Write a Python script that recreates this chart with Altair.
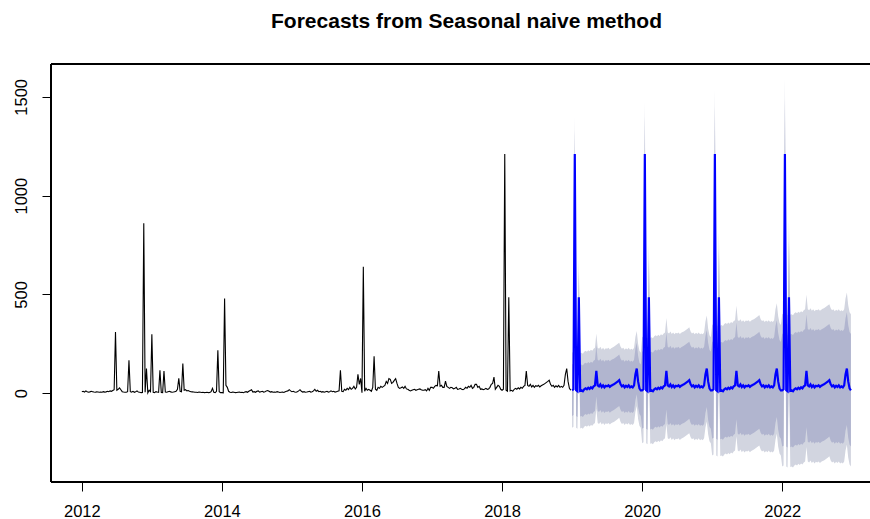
import altair as alt
import pandas as pd

y2012 = [8, 10, 6, 12, 8, 5, 7, 10, 8, 6,
         5, 7, 6, 5, 6, 5, 8, 6, 7, 10,
         8, 12, 10, 14, 18, 310, 15, 20, 27, 18,
         8, 6, 5, 5, 8, 167, 8, 6, 10, 5,
         8, 12, 6, 5, 3, 4, 860, 5, 125, 2,
         15, 8]
y2013 = [298, 5, 3, 8, 6, 5, 116, 4, 3, 113,
         6, 5, 8, 10, 7, 5, 6, 8, 10, 20,
         76, 10, 8, 151, 15, 18, 12, 14, 10, 8,
         7, 6, 5, 5, 4, 6, 5, 4, 5, 3,
         4, 5, 3, 4, 8, 25, 5, 3, 10, 217,
         8, 3]
y2014 = [3, 2, 480, 40, 30, 10, 5, 4, 6, 5,
         3, 4, 5, 6, 4, 5, 3, 6, 8, 5,
         10, 14, 18, 6, 8, 5, 10, 12, 6, 8,
         10, 6, 8, 12, 14, 10, 6, 8, 5, 6,
         5, 8, 6, 4, 5, 6, 4, 8, 10, 12,
         18, 12]
y2015 = [8, 10, 6, 5, 8, 12, 18, 10, 6, 8,
         5, 6, 8, 10, 6, 8, 12, 20, 10, 15,
         8, 10, 6, 8, 5, 8, 10, 6, 8, 12,
         8, 10, 6, 8, 10, 12, 116, 10, 8, 20,
         15, 25, 18, 30, 20, 25, 35, 22, 30, 96,
         45, 75]
y2016 = [3, 640, 10, 25, 15, 20, 15, 10, 30, 187,
         20, 15, 30, 25, 35, 30, 35, 40, 60, 50,
         74, 70, 50, 55, 65, 74, 50, 30, 25, 28,
         32, 25, 35, 22, 20, 15, 12, 15, 18, 20,
         15, 18, 20, 22, 18, 15, 15, 18, 12, 25,
         15, 30]
y2017 = [30, 25, 35, 40, 38, 113, 35, 40, 30, 30,
         61, 35, 30, 25, 30, 28, 22, 25, 30, 20,
         22, 25, 20, 18, 22, 30, 25, 35, 30, 40,
         25, 30, 45, 45, 30, 35, 20, 22, 18, 20,
         25, 20, 22, 30, 45, 50, 82, 20, 30, 40,
         35, 20]
y2018 = [15, 20, 1210, 15, 10, 486, 12, 15, 10, 20,
         25, 20, 28, 22, 30, 25, 35, 40, 113, 40,
         35, 45, 32, 40, 30, 38, 35, 40, 32, 38,
         42, 45, 50, 55, 60, 66, 45, 35, 40, 30,
         38, 32, 40, 30, 35, 30, 40, 95, 125, 60,
         25, 15]

start_year = 2012
freq = 52
forecast_years = 4
# forecast interval half-widths per forecast year
hw80 = [130, 195, 245, 285]
hw95 = [190, 268, 330, 385]

x_ticks = [2012, 2014, 2016, 2018, 2020, 2022]
y_ticks = [0, 500, 1000, 1500]

history = y2012 + y2013 + y2014 + y2015 + y2016 + y2017 + y2018
n_hist = len(history)
hist_df = pd.DataFrame({
    "t": [start_year + i / freq for i in range(n_hist)],
    "v": history,
})

rows = []
for k in range(forecast_years):
    for w, m in enumerate(y2018):  # seasonal naive: last observed year
        i = n_hist + k * freq + w
        rows.append({
            "t": start_year + i / freq, "mean": m,
            "lo80": m - hw80[k], "hi80": m + hw80[k],
            "lo95": m - hw95[k], "hi95": m + hw95[k],
        })
fc_df = pd.DataFrame(rows)

W, H = 819, 418
FONT = "Liberation Sans"

xscale = alt.Scale(domain=[2011.56, 2011.56 + W / 70.04], nice=False, zero=False)
yscale = alt.Scale(domain=[-449, 1666], nice=False, zero=False)

xaxis = alt.Axis(values=x_ticks, format="d", title=None, grid=False, domain=False,
                 tickColor="black", tickSize=9, tickWidth=1,
                 labelFont=FONT, labelFontSize=16.5, labelColor="black",
                 labelPadding=12, labelBaseline="top", labelFlush=False)
yaxis = alt.Axis(values=y_ticks, format="d", title=None, grid=False, domain=False,
                 tickColor="black", tickSize=9, tickWidth=1,
                 labelFont=FONT, labelFontSize=16.5, labelColor="black",
                 labelAngle=270, labelAlign="center", labelBaseline="alphabetic",
                 labelPadding=16)

band95 = alt.Chart(fc_df).mark_area(color="#D2D5E0", opacity=1, interpolate="linear").encode(
    x=alt.X("t:Q", scale=xscale, axis=xaxis),
    y=alt.Y("lo95:Q", scale=yscale, axis=yaxis),
    y2="hi95:Q",
)
band80 = alt.Chart(fc_df).mark_area(color="#B1B5CF", opacity=1, interpolate="linear").encode(
    x=alt.X("t:Q", scale=xscale),
    y=alt.Y("lo80:Q", scale=yscale),
    y2="hi80:Q",
)
hist_line = alt.Chart(hist_df).mark_line(color="black", strokeWidth=1.1).encode(
    x=alt.X("t:Q", scale=xscale),
    y=alt.Y("v:Q", scale=yscale),
)
fc_line = alt.Chart(fc_df).mark_line(color="#0000FF", strokeWidth=2.2).encode(
    x=alt.X("t:Q", scale=xscale),
    y=alt.Y("mean:Q", scale=yscale),
)

top_rule = alt.Chart(hist_df).mark_rule(color="black", strokeWidth=1).encode(
    x=alt.value(0), x2=alt.value(W + 5), y=alt.value(0))
bottom_rule = alt.Chart(hist_df).mark_rule(color="black", strokeWidth=1).encode(
    x=alt.value(0), x2=alt.value(W + 5), y=alt.value(H))
left_rule = alt.Chart(hist_df).mark_rule(color="black", strokeWidth=1).encode(
    x=alt.value(0), y=alt.value(0), y2=alt.value(H))

chart = alt.layer(band95, band80, hist_line, fc_line, top_rule, bottom_rule, left_rule).properties(
    width=W, height=H,
    title=alt.TitleParams("Forecasts from Seasonal naive method", font=FONT, fontSize=21,
                          fontWeight="bold", color="black", anchor="middle", dx=6,
                          offset=15, baseline="alphabetic"),
    autosize=alt.AutoSizeParams(type="none"),
    padding={"left": 51, "top": 64, "right": 0, "bottom": 37},
).configure_view(strokeWidth=0).configure(background="white")

chart.save("out.html", embed_options={"renderer": "svg", "actions": False})
